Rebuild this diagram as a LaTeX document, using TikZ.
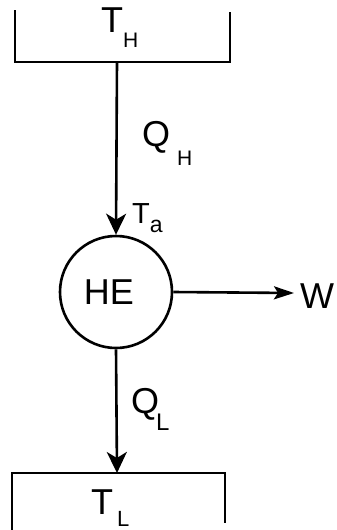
\documentclass[tikz,border=0pt]{standalone}
\usepackage{fontspec}
\setmainfont{Liberation Sans}
\usetikzlibrary{arrows.meta}
\newcommand{\bigf}{\fontsize{36}{38}\selectfont}
\newcommand{\subf}{\fontsize{21}{22}\selectfont}
\begin{document}
\begin{tikzpicture}[x=1pt,y=-1pt,
  ln/.style={line width=2.6pt},
  arr/.style={ln,-{Stealth[length=21pt,width=20pt,inset=6pt]}},
  warr/.style={ln,-{Stealth[length=20pt,width=13pt,inset=4pt]}},
  lbl/.style={font=\bigf,inner sep=0pt,anchor=base west}]
\useasboundingbox (0,0) rectangle (337,530);
% top reservoir
\coordinate (th1) at (15,10);
\coordinate (th2) at (15,62);
\coordinate (th3) at (230,62);
\coordinate (th4) at (230,12);
\draw[ln] (th1) -- (th2) -- (th3) -- (th4);
\node[lbl] (TH) at (101,32) {T\kern0pt\raisebox{-15pt}{\subf H}};
% engine
\node[draw,circle,ln,minimum size=112pt,inner sep=0pt] (HE) at (116,292) {};
\node[font=\fontsize{36}{38}\selectfont,inner sep=0pt,anchor=base] (HEt) at (109,304) {HE};
\coordinate (top) at (117,62);
\draw[arr] (top) -- (HE.north);
\node[lbl] (QH) at (142,146) {Q\kern7pt\raisebox{-19pt}{\subf H}};
\node[lbl,font=\fontsize{29}{30}\selectfont] (Ta) at (132,223) {T\raisebox{-9pt}{\fontsize{23}{24}\selectfont a}};
% work
\coordinate (wend) at (294,293);
\draw[warr] (HE.east) -- (wend);
\node[lbl,font=\fontsize{36}{38}\selectfont] (W) at (300,308) {W};
% bottom reservoir
\coordinate (bot) at (117,473);
\draw[arr] (HE.south) -- (bot);
\node[lbl] (QL) at (131,413) {Q\kern-3pt\raisebox{-17pt}{\fontsize{24}{24}\selectfont L}};
\coordinate (tl1) at (12,530);
\coordinate (tl2) at (12,473);
\coordinate (tl3) at (225,473);
\coordinate (tl4) at (225,523);
\draw[ln] (tl1) -- (tl2) -- (tl3) -- (tl4);
\node[lbl] (TL) at (91,514) {T\kern4pt\raisebox{-12pt}{\fontsize{22}{24}\selectfont L}};
\end{tikzpicture}
\end{document}
